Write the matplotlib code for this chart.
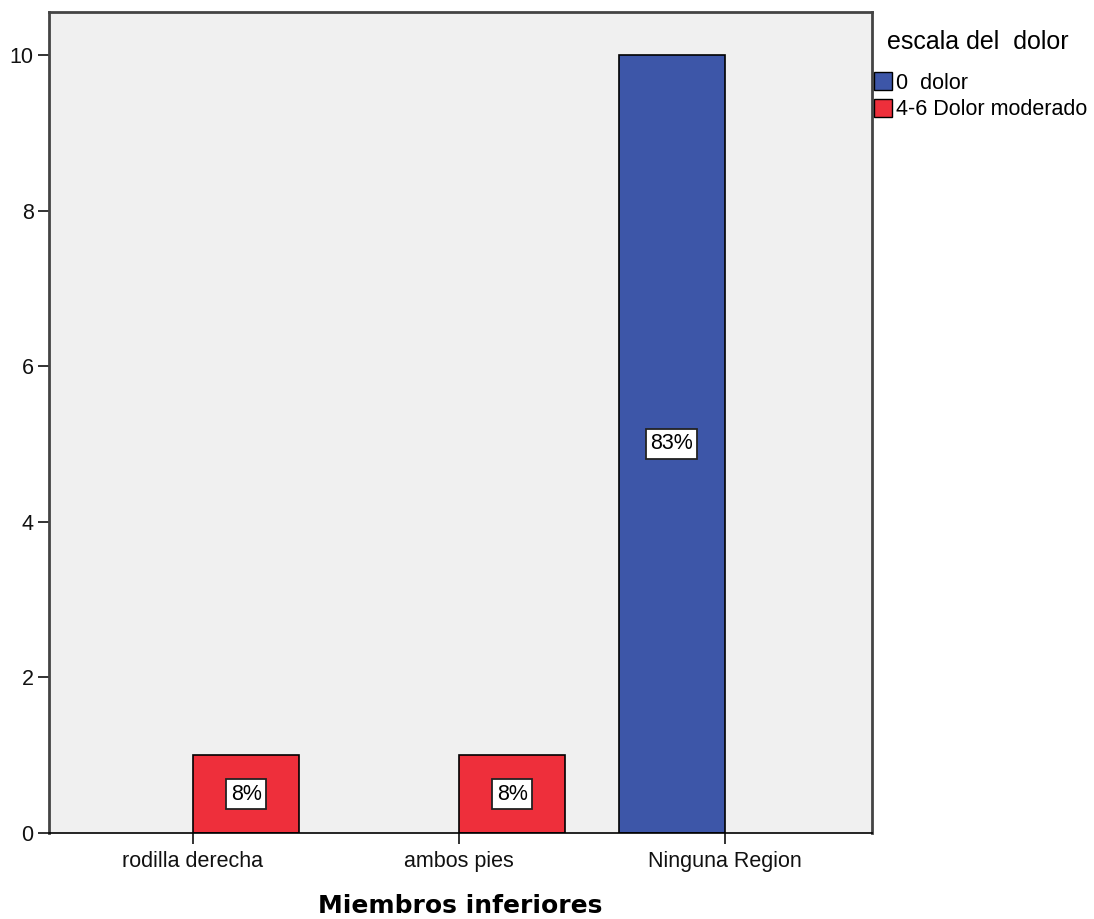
import matplotlib
matplotlib.use("Agg")
import matplotlib.pyplot as plt
from matplotlib.patches import Patch
import numpy as np

categories = ["rodilla derecha", "ambos pies", "Ninguna Region"]
series_names = ["0  dolor", "4-6 Dolor moderado"]
sin_dolor = [0, 0, 10]
dolor_moderado = [1, 1, 0]
series_values = [sin_dolor, dolor_moderado]
series_colors = ["#3D56A8", "#EE2F3B"]
y_ticks = [0, 2, 4, 6, 8, 10]

plt.rcParams["font.family"] = ["Liberation Sans", "DejaVu Sans"]

fig = plt.figure(figsize=(10.94, 9.19), dpi=100)
ax = fig.add_axes([0.0448, 0.0936, 0.7523, 0.8934])
ax.set_facecolor("#F0F0F0")

total = sum(sum(v) for v in series_values)
x = np.arange(len(categories))
width = 0.4
offsets = [-width / 2, width / 2]

for vals, off, col in zip(series_values, offsets, series_colors):
    vals = np.asarray(vals, dtype=float)
    keep = vals > 0
    bars = ax.bar(x[keep] + off, vals[keep], width=width, color=col,
                  edgecolor="black", linewidth=1.2, zorder=2)
    for b, v in zip(bars, vals[keep]):
        pct = round(100 * v / total)
        ax.text(b.get_x() + b.get_width() / 2, v / 2, f"{pct}%",
                ha="center", va="center", fontsize=15.5, zorder=3,
                bbox=dict(boxstyle="square,pad=0.2", facecolor="white",
                          edgecolor="#222222", linewidth=1.3))

ax.set_xlim(-0.541, 2.553)
ax.set_ylim(0, 10.553)
ax.set_xticks(x)
ax.set_xticklabels(categories, fontsize=15.5)
ax.set_yticks(y_ticks)
ax.set_yticklabels([str(t) for t in y_ticks], fontsize=15.5)
ax.tick_params(axis="both", direction="out", length=8, width=1.3,
               color="#222222", labelcolor="#111111", pad=3)
ax.tick_params(axis="x", pad=5)

for side in ["left", "top", "right"]:
    ax.spines[side].set_color("#444444")
    ax.spines[side].set_linewidth(2)
ax.spines["bottom"].set_color("black")
ax.spines["bottom"].set_linewidth(1.2)

ax.set_xlabel("Miembros inferiores", fontsize=18, fontweight="bold",
              family="DejaVu Sans", labelpad=16)

handles = [Patch(facecolor=c, edgecolor="black", linewidth=1.0) for c in series_colors]
leg = fig.legend(handles, series_names, title="escala del  dolor",
                 loc="upper left", bbox_to_anchor=(0.799, 0.967),
                 frameon=False, fontsize=15.5, title_fontsize=18,
                 handlelength=0.85, handleheight=0.9, handletextpad=0.15,
                 labelspacing=0.25, borderpad=0.0, borderaxespad=0.0)
leg._legend_box.align = "left"
leg._legend_box.sep = 13
leg.get_title().set_position((13, 0))

fig.savefig("out.png", dpi=100)
